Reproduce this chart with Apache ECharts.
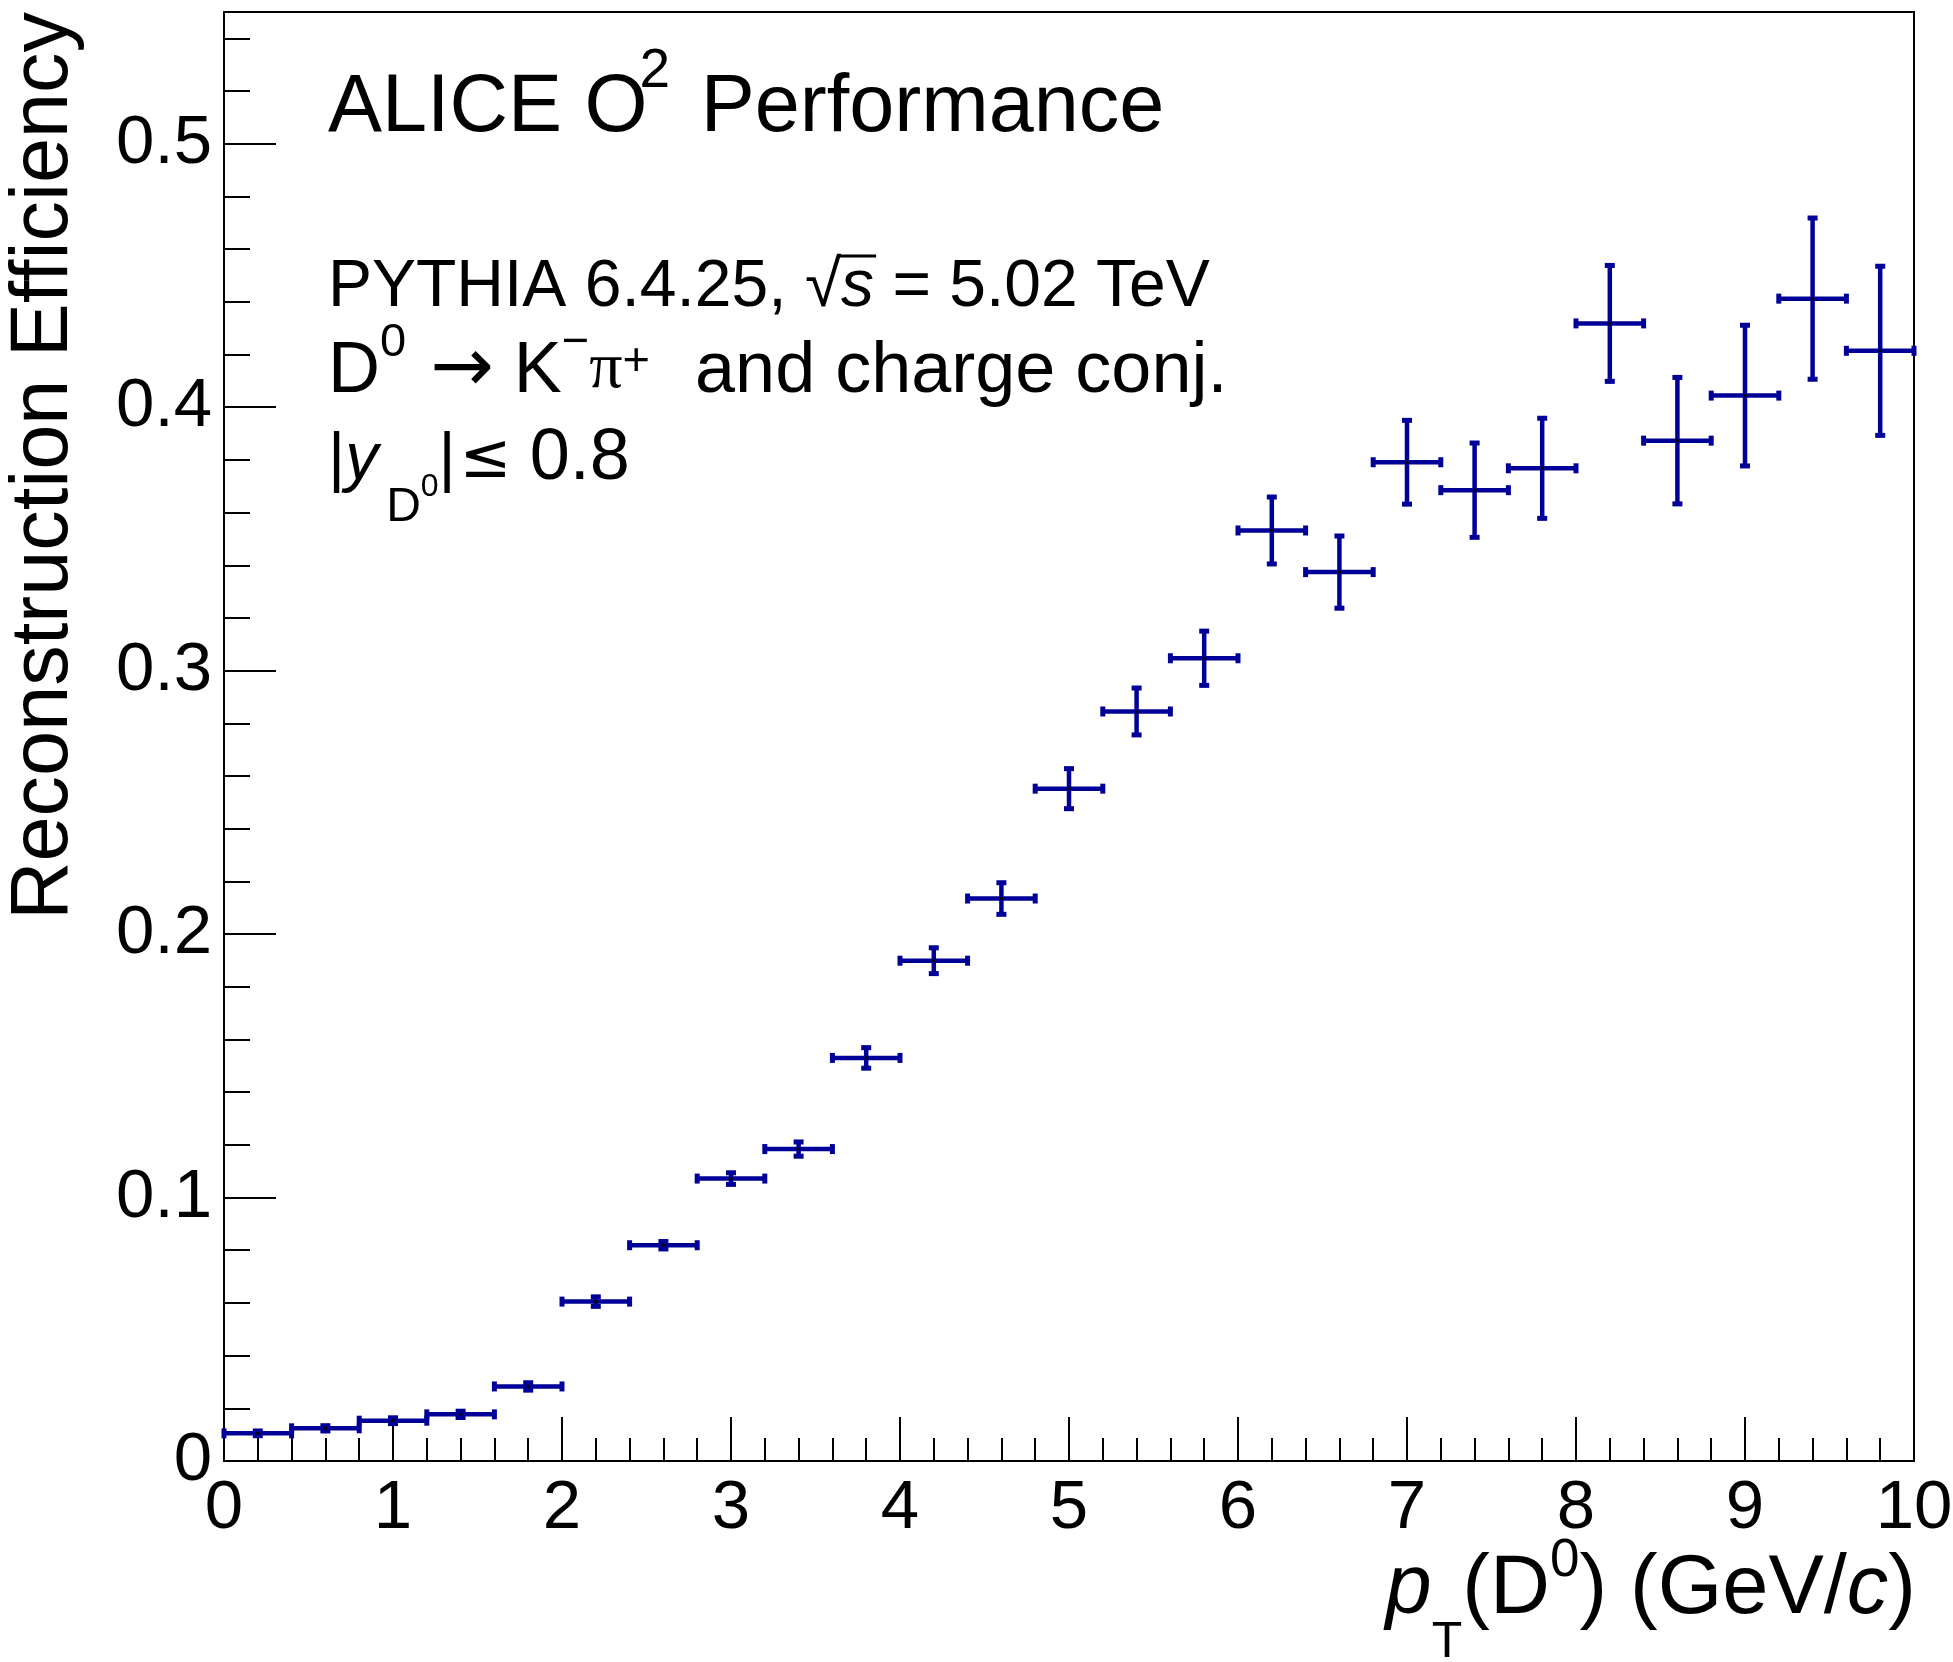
<!DOCTYPE html>
<html>
<head>
<meta charset="utf-8">
<script src="https://cdn.jsdelivr.net/npm/echarts@6/dist/echarts.min.js"></script>
<style>
html, body { margin: 0; padding: 0; background: #fff; }
#main { width: 1953px; height: 1662px; }
</style>
</head>
<body>
<div id="main"></div>
<script>
// D0 reconstruction efficiency vs pT, bins of 0.4 GeV/c
var ptCenter = [0.2, 0.6, 1.0, 1.4, 1.8, 2.2, 2.6, 3.0, 3.4, 3.8, 4.2, 4.6, 5.0, 5.4, 5.8, 6.2, 6.6, 7.0, 7.4, 7.8, 8.2, 8.6, 9.0, 9.4, 9.8];
var ptHalfWidth = [0.2, 0.2, 0.2, 0.2, 0.2, 0.2, 0.2, 0.2, 0.2, 0.2, 0.2, 0.2, 0.2, 0.2, 0.2, 0.2, 0.2, 0.2, 0.2, 0.2, 0.2, 0.2, 0.2, 0.2, 0.2];
var efficiency = [0.0105, 0.0124, 0.0153, 0.0177, 0.0283, 0.0605, 0.0819, 0.1072, 0.1184, 0.1530, 0.1899, 0.2135, 0.2552, 0.2845, 0.3047, 0.3532, 0.3374, 0.3791, 0.3685, 0.3768, 0.4318, 0.3873, 0.4044, 0.4412, 0.4214];
var efficiencyErr = [0.0009, 0.0010, 0.0011, 0.0012, 0.0014, 0.0018, 0.0014, 0.0022, 0.0027, 0.0039, 0.0049, 0.0060, 0.0076, 0.0089, 0.0103, 0.0127, 0.0137, 0.0159, 0.0179, 0.0190, 0.0220, 0.0240, 0.0267, 0.0306, 0.0321];

var FONT = '"Liberation Sans", Arial, Helvetica, sans-serif';
var markColor = '#000099';

var rows = [];
for (var i = 0; i < ptCenter.length; i++) {
	rows.push([ptCenter[i], efficiency[i], ptHalfWidth[i], efficiencyErr[i]]);
}

function renderErrorBar(params, api) {
	var x = api.value(0), y = api.value(1), dx = api.value(2), dy = api.value(3);
	var c = api.coord([x, y]);
	var l = api.coord([x - dx, y]);
	var r = api.coord([x + dx, y]);
	var t = api.coord([x, y + dy]);
	var b = api.coord([x, y - dy]);
	var st = { stroke: markColor, lineWidth: 4.5 };
	var fill = { fill: markColor };
	return {
		type: 'group',
		children: [
			{ type: 'line', shape: { x1: l[0], y1: c[1], x2: r[0], y2: c[1] }, style: st },
			{ type: 'line', shape: { x1: c[0], y1: t[1], x2: c[0], y2: b[1] }, style: st },
			{ type: 'rect', shape: { x: l[0] - 2.5, y: c[1] - 5, width: 5, height: 10 }, style: fill },
			{ type: 'rect', shape: { x: r[0] - 2.5, y: c[1] - 5, width: 5, height: 10 }, style: fill },
			{ type: 'rect', shape: { x: c[0] - 5, y: t[1] - 2.5, width: 10, height: 5 }, style: fill },
			{ type: 'rect', shape: { x: c[0] - 5, y: b[1] - 2.5, width: 10, height: 5 }, style: fill },
			{ type: 'rect', shape: { x: c[0] - 1.5, y: c[1] - 1.5, width: 3, height: 3 }, style: { fill: '#000' } }
		]
	};
}

// width of text pieces, used for the sqrt bar
var mctx = document.createElement('canvas').getContext('2d');
function textWidth(str, size, style) {
	mctx.font = (style || '') + ' ' + size + 'px ' + FONT;
	return mctx.measureText(str).width;
}
var sqrtX0 = 328 + textWidth('PYTHIA 6.4.25, \u221A', 66);
var sqrtX1 = sqrtX0 + textWidth('s', 66, 'italic') + 2;

var axisLineStyle = { color: '#000', width: 2 };
var labelStyle = { fontSize: 69, fontFamily: FONT, color: '#000' };

function txt(size, extra) {
	return Object.assign({ fontSize: size, fontFamily: FONT, fill: '#000' }, extra || {});
}

var option = {
	animation: false,
	backgroundColor: '#fff',
	grid: {
		left: 224, right: 39, top: 12, bottom: 201,
		show: true, borderColor: '#000', borderWidth: 2,
		containLabel: false, outerBoundsMode: 'none'
	},
	xAxis: {
		type: 'value', min: 0, max: 10, interval: 1,
		axisLine: { show: true, lineStyle: axisLineStyle },
		axisTick: { show: true, inside: true, length: 44, lineStyle: axisLineStyle },
		minorTick: { show: true, splitNumber: 5, length: 23, lineStyle: axisLineStyle },
		splitLine: { show: false },
		minorSplitLine: { show: false },
		axisLabel: Object.assign({ margin: 13 }, labelStyle)
	},
	yAxis: [{
		type: 'value', min: 0, max: 0.55, interval: 0.1,
		axisLine: { show: true, lineStyle: axisLineStyle },
		axisTick: { show: true, inside: true, length: 52, lineStyle: axisLineStyle },
		splitLine: { show: false },
		axisLabel: Object.assign({ margin: 12, showMaxLabel: false }, labelStyle)
	}, {
		type: 'value', min: 0, max: 0.55, interval: 0.02, position: 'left',
		axisLine: { show: false },
		axisTick: { show: true, inside: true, length: 26, lineStyle: axisLineStyle },
		splitLine: { show: false },
		axisLabel: { show: false }
	}],
	series: [{
		type: 'custom',
		coordinateSystem: 'cartesian2d',
		xAxisIndex: 0,
		yAxisIndex: 0,
		clip: false,
		renderItem: renderErrorBar,
		encode: { x: 0, y: 1 },
		data: rows
	}],
	graphic: [{
		type: 'text', x: 328, y: 109,
		style: {
			text: '{m|ALICE O}{sup|2}{m| Performance}',
			align: 'left', verticalAlign: 'middle', textAlign: 'left', textVerticalAlign: 'middle',
			fill: '#000', fontFamily: FONT, fontSize: 81,
			rich: {
				m: txt(81),
				sup: txt(55, { padding: [0, 8, 75, -8] })
			}
		}
	}, {
		type: 'text', x: 328, y: 288,
		style: {
			text: '{m|PYTHIA 6.4.25, \u221A}{i|s}{m| = 5.02 TeV}',
			align: 'left', verticalAlign: 'middle', textAlign: 'left', textVerticalAlign: 'middle',
			fill: '#000', fontFamily: FONT, fontSize: 66,
			rich: {
				m: txt(66),
				i: txt(66, { fontStyle: 'italic' })
			}
		}
	}, {
		type: 'line',
		shape: { x1: sqrtX0 - 3, y1: 256, x2: sqrtX1, y2: 256 },
		style: { stroke: '#000', lineWidth: 3 }
	}, {
		type: 'text', x: 328, y: 372,
		style: {
			text: '{m|D}{sup|0}{arr|\u2192}{m|K}{supm|\u2212}{pi|\u03C0}{supp|+}{tail|  and charge conj.}',
			align: 'left', verticalAlign: 'middle', textAlign: 'left', textVerticalAlign: 'middle',
			fill: '#000', fontFamily: FONT, fontSize: 72,
			rich: {
				m: txt(72),
				tail: txt(72, { padding: [0, 0, 0, 5] }),
				arr: txt(76, { fontFamily: '"DejaVu Sans ExtraLight", "DejaVu Sans", sans-serif', padding: [0, 20, 2, 24] }),
				pi: txt(66, { fontFamily: '"Liberation Serif", serif', padding: [0, 0, 4, 0] }),
				sup: txt(47, { padding: [0, 0, 58, 0] }),
				supm: txt(47, { padding: [0, 0, 58, 0] }),
				supp: txt(47, { padding: [0, 0, 20, 0] })
			}
		}
	}, {
		type: 'text', x: 328, y: 461,
		style: {
			text: '{m||}{i|y}{sub|D}{subsup|0}{m||}{le|\u2264}{n|0.8}',
			align: 'left', verticalAlign: 'middle', textAlign: 'left', textVerticalAlign: 'middle',
			fill: '#000', fontFamily: FONT, fontSize: 66,
			rich: {
				m: txt(66),
				i: txt(66, { fontStyle: 'italic' }),
				sub: txt(48, { padding: [94, 0, 0, 8] }),
				subsup: txt(32, { padding: [52, 0, 0, 0] }),
				le: txt(62, { fontFamily: '"DejaVu Sans", sans-serif', padding: [0, 0, 0, 4] }),
				n: txt(72, { padding: [0, 0, 4, 18] })
			}
		}
	}, {
		type: 'text', x: 1916, y: 1590,
		style: {
			text: '{i|p}{sub|T}{m|(D}{sup|0}{m|) (GeV/}{i|c}{m|)}',
			align: 'right', verticalAlign: 'middle', textAlign: 'right', textVerticalAlign: 'middle',
			fill: '#000', fontFamily: FONT, fontSize: 83,
			rich: {
				m: txt(83),
				i: txt(83, { fontStyle: 'italic' }),
				sub: txt(50, { padding: [107, 0, 0, 0] }),
				sup: txt(53, { padding: [0, 0, 57, 0] })
			}
		}
	}, {
		type: 'text', x: 45, y: 12, rotation: Math.PI / 2,
		style: {
			text: 'Reconstruction Efficiency',
			align: 'right', verticalAlign: 'middle', textAlign: 'right', textVerticalAlign: 'middle',
			fill: '#000', fontFamily: FONT, fontSize: 81
		}
	}]
};

var chart = echarts.init(document.getElementById('main'));
chart.setOption(option);
</script>
</body>
</html>
